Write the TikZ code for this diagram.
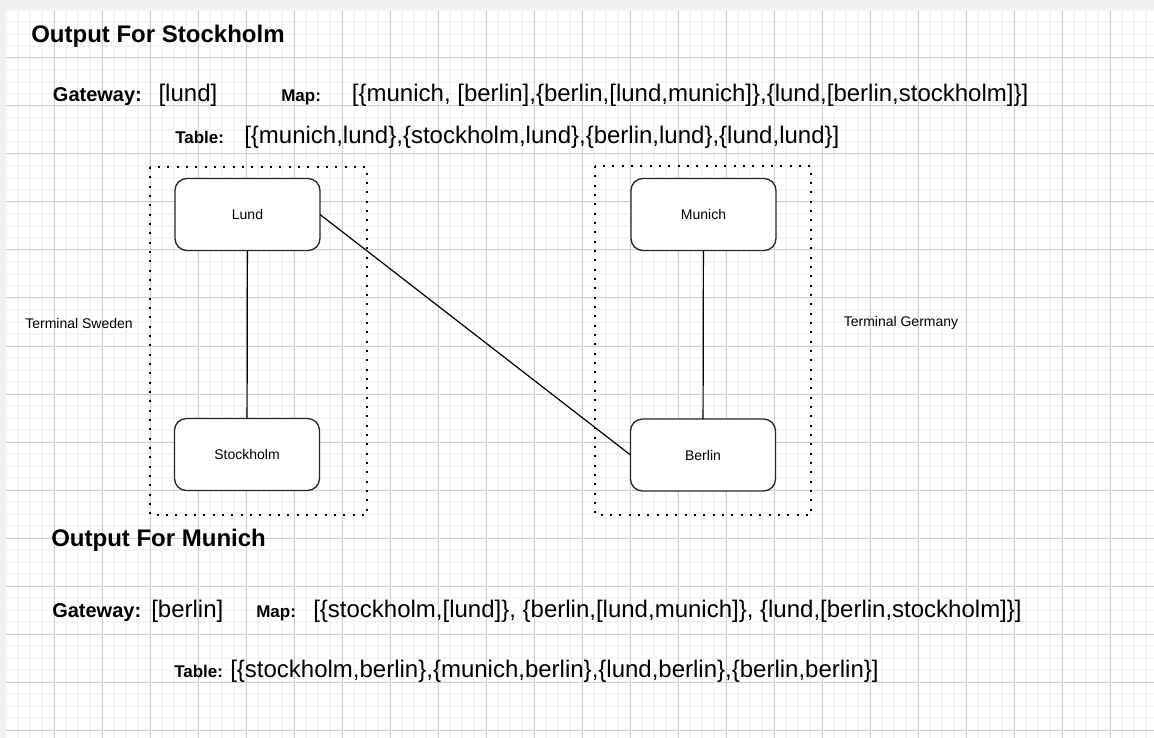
\documentclass[tikz,border=0pt]{standalone}
\usepackage{fontspec}
\setmainfont{Liberation Sans}
\usetikzlibrary{positioning}
\tikzset{
    city/.style={draw=black!85, line width=1pt, rounded corners=9pt, fill=white, minimum width=108.75pt, minimum height=54pt, inner sep=0pt, outer sep=0pt, font=\fontsize{10.5pt}{12pt}\selectfont},
    terminal/.style={draw=black, line width=1.5pt, dash pattern=on 1.5pt off 5.5pt},
    terminalname/.style={inner sep=0pt, font=\fontsize{10.5pt}{12pt}\selectfont},
    heading/.style={anchor=base west, inner sep=0pt, font=\bfseries\fontsize{18pt}{21pt}\selectfont},
    fieldname/.style={anchor=base west, inner sep=0pt, font=\bfseries\fontsize{12.75pt}{15pt}\selectfont},
    gatewayname/.style={fieldname, font=\bfseries\fontsize{15pt}{18pt}\selectfont},
    fieldvalue/.style={anchor=base west, inner sep=0pt, font=\fontsize{18pt}{21pt}\selectfont},
    minorline/.style={line width=1.2pt, color=black!4},
    majorline/.style={line width=0.75pt, color=black!19}
}
\begin{document}
\begin{tikzpicture}[x=0.75pt, y=-0.75pt]
    \useasboundingbox (0,0) rectangle (1154,738);
    \fill [black!6] (0,0) rectangle (1154,738);
    \fill [white] (6,10) rectangle (1154,738);
    \foreach \gx in {6,18,...,1154} \draw [minorline] (\gx,10) -- (\gx,738);
    \foreach \gy in {10,22,...,738} \draw [minorline] (6,\gy) -- (1154,\gy);
    \foreach \gx in {54,102,...,1154} \draw [majorline] (\gx,10) -- (\gx,738);
    \foreach \gy in {58,106,...,738} \draw [majorline] (6,\gy) -- (1154,\gy);

    \draw [terminal] (150,167) rectangle (367,515);
    \draw [terminal] (595,166) rectangle (811,515);
    \node [terminalname] (sweden) at (79,323) {Terminal Sweden};
    \node [terminalname] (germany) at (901,323) {Terminal Germany};

    \node [city] (lund) at (247.5,214.5) {Lund};
    \node [city] (stockholm) at (247,454.5) {Stockholm};
    \node [city] (munich) at (703.5,214.5) {Munich};
    \node [city] (berlin) at (703,455) {Berlin};
    \draw [line width=0.9pt] (lund) -- (stockholm);
    \draw [line width=0.9pt] (munich) -- (berlin);
    \draw [line width=0.9pt] (lund.east) -- (berlin.west);

    \node [heading] (titlestockholm) at (31,43) {Output For Stockholm};
    \node [gatewayname] (gatewaystockholm) at (52.7,102) {Gateway:};
    \node [fieldvalue] (gatewaystockholmval) at (158.3,102) {[lund]};
    \node [fieldname] (mapstockholm) at (281,102) {Map:};
    \node [fieldvalue] (mapstockholmval) at (351.7,102) {[\{munich, [berlin],\{berlin,[lund,munich]\},\{lund,[berlin,stockholm]\}]};
    \node [fieldname] (tablestockholm) at (175,143.5) {Table:};
    \node [fieldvalue] (tablestockholmval) at (244,143.5) {[\{munich,lund\},\{stockholm,lund\},\{berlin,lund\},\{lund,lund\}]};

    \node [heading] (titlemunich) at (51,546) {Output For Munich};
    \node [gatewayname] (gatewaymunich) at (52,617) {Gateway:};
    \node [fieldvalue] (gatewaymunichval) at (151,617) {[berlin]};
    \node [fieldname] (mapmunich) at (256,617) {Map:};
    \node [fieldvalue] (mapmunichval) at (313,617) {[\{stockholm,[lund]\}, \{berlin,[lund,munich]\}, \{lund,[berlin,stockholm]\}]};
    \node [fieldname] (tablemunich) at (174,677) {Table:};
    \node [fieldvalue] (tablemunichval) at (230,677) {[\{stockholm,berlin\},\{munich,berlin\},\{lund,berlin\},\{berlin,berlin\}]};
\end{tikzpicture}
\end{document}
